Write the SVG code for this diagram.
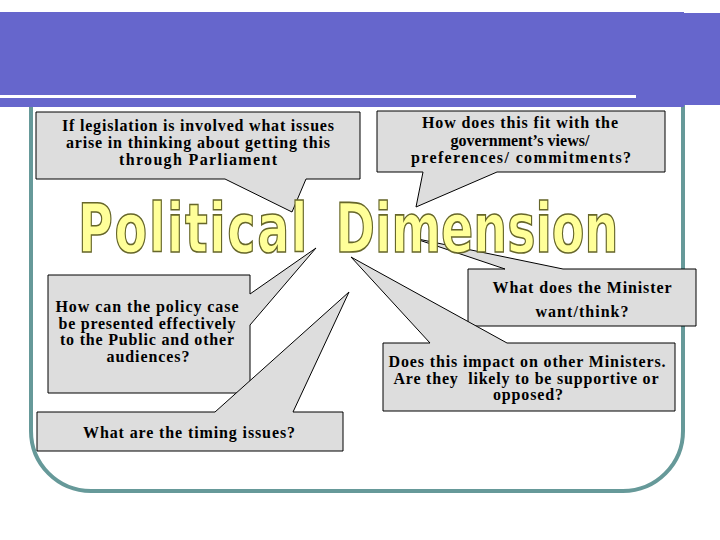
<svg xmlns="http://www.w3.org/2000/svg" width="720" height="540" viewBox="0 0 720 540">
<style>
.callout{fill:#dddddd;stroke:#000000;stroke-width:1}
.t{font-family:"Liberation Serif","DejaVu Serif","Times New Roman",serif;font-weight:bold;font-size:16px;fill:#000000;text-anchor:middle}
.title{font-family:"DejaVu Sans","Liberation Sans",Arial,sans-serif;font-weight:bold;font-size:68px;fill:#ffff99;stroke:#66662a;stroke-width:1.6}
</style>
<rect x="0" y="0" width="720" height="540" fill="#ffffff"/>
<g id="frame">
<path d="M31,100 V431 A60,60 0 0 0 91,491 H623 A60,60 0 0 0 683,431 V100" fill="none" stroke="#669999" stroke-width="4"/>
</g>
<g id="banner">
<rect x="0" y="12" width="684" height="95" fill="#6666cc"/>
<rect x="683" y="13" width="37" height="92" fill="#6666cc"/>
<rect x="0" y="95" width="636" height="3" fill="#ffffff"/>
</g>
<g id="connectors">
</g>
<g id="node-legislation">
<path class="callout" d="M36,112 H360 V179 H306 L292,212 L225,179 H36 Z"/>
<text class="t" x="198" y="131" textLength="272">If legislation is involved what issues</text>
<text class="t" x="198" y="148" textLength="264">arise in thinking about getting this</text>
<text class="t" x="198" y="165" textLength="158">through Parliament</text>
</g>
<g id="node-government">
<path class="callout" d="M377,111 H665 V172 H497 L416,207 L423,172 H377 Z"/>
<text class="t" x="520" y="128" textLength="196">How does this fit with the</text>
<text class="t" x="520" y="146" textLength="139">government’s views/</text>
<text class="t" x="521" y="163" textLength="220">preferences/ commitments?</text>
</g>
<g id="node-public">
<path class="callout" d="M48,275 H250 V294 L316,248 L250,325 V393 H48 Z"/>
<text class="t" x="147" y="311.5" textLength="183">How can the policy case</text>
<text class="t" x="147" y="328.5" textLength="177">be presented effectively</text>
<text class="t" x="147" y="345" textLength="174">to the Public and other</text>
<text class="t" x="148" y="362" textLength="83">audiences?</text>
</g>
<g id="node-timing">
<path class="callout" d="M37,412 H215 L349,292 L293,412 H343 V451 H37 Z"/>
<text class="t" x="189" y="438" textLength="212">What are the timing issues?</text>
</g>
<g id="node-minister">
<path class="callout" d="M468,269 H505 L413,238 L563,269 H696 V326 H468 Z"/>
<text class="t" x="582" y="293" textLength="179">What does the Minister</text>
<text class="t" x="582" y="317" textLength="93">want/think?</text>
</g>
<g id="node-ministers">
<path class="callout" d="M383,343 H430 L351,257 L507,343 H675 V411 H383 Z"/>
<text class="t" x="527" y="367" textLength="277">Does this impact on other Ministers.</text>
<text class="t" x="526" y="383.5" textLength="265" xml:space="preserve">Are they  likely to be supportive or</text>
<text class="t" x="528" y="400" textLength="70">opposed?</text>
</g>
<g id="title">
<text class="title" transform="translate(78,252) scale(0.7,1)" x="0" y="0"><tspan letter-spacing="2.4">Political</tspan> <tspan x="368">Dimension</tspan></text>
</g>
</svg>
